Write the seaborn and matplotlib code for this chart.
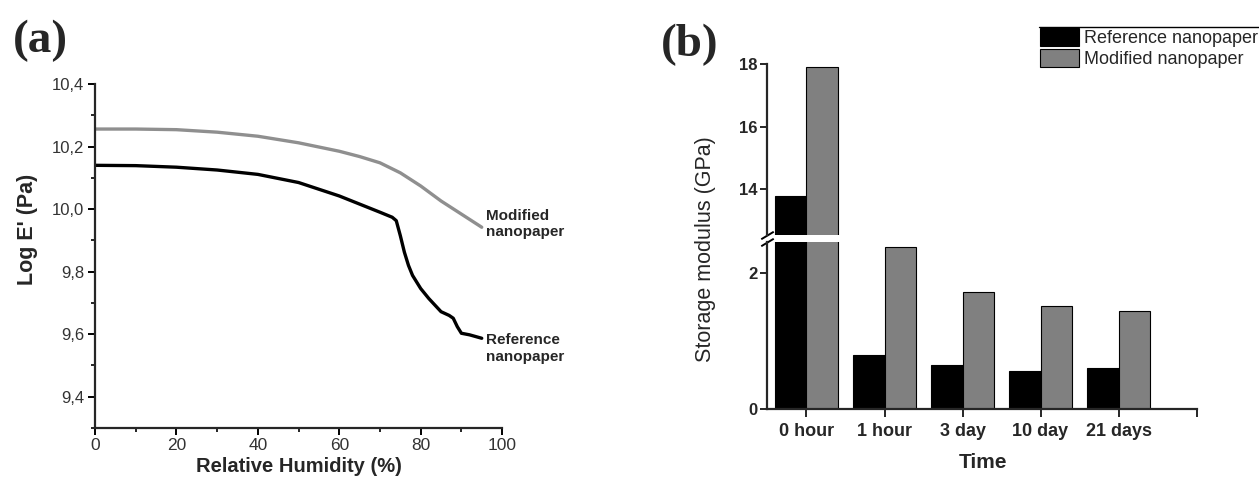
import matplotlib
matplotlib.use("Agg")
import matplotlib.pyplot as plt
import seaborn as sns
import pandas as pd
from matplotlib.lines import Line2D
from matplotlib.ticker import MultipleLocator, FuncFormatter

# panel (a): log E' vs relative humidity
rh_modified = [0, 10, 20, 30, 40, 50, 60, 65, 70, 75, 80, 85, 90, 95]
loge_modified = [10.256, 10.256, 10.254, 10.246, 10.233, 10.212, 10.185,
                 10.168, 10.148, 10.116, 10.074, 10.026, 9.984, 9.942]
rh_reference = [0, 10, 20, 30, 40, 50, 60, 65, 70, 73, 74, 75, 76, 77, 78,
                80, 82, 85, 87, 88, 89, 90, 92, 95]
loge_reference = [10.140, 10.139, 10.134, 10.125, 10.111, 10.085, 10.042,
                  10.016, 9.990, 9.974, 9.963, 9.915, 9.862, 9.820, 9.788,
                  9.746, 9.714, 9.672, 9.660, 9.651, 9.624, 9.603, 9.598, 9.587]

# panel (b): storage modulus over time
times = ["0 hour", "1 hour", "3 day", "10 day", "21 days"]
series = ["Reference nanopaper", "Modified nanopaper"]
modulus_reference = [13.78, 0.80, 0.647, 0.568, 0.607]
modulus_modified = [17.91, 2.38, 1.725, 1.52, 1.44]

sns.set_theme(style="ticks")
plt.rcParams["font.family"] = ["Liberation Sans", "DejaVu Sans"]
plt.rcParams["axes.linewidth"] = 1.6

fig = plt.figure(figsize=(12.59, 4.82), dpi=100)

# ---- (a)
ax_a = fig.add_axes([0.0755, 0.112, 0.3233, 0.7137])
sns.lineplot(x=rh_modified, y=loge_modified, color="#8f8f8f", lw=2.4, ax=ax_a)
sns.lineplot(x=rh_reference, y=loge_reference, color="black", lw=2.4, ax=ax_a)
ax_a.set_xlim(0, 100)
ax_a.set_ylim(9.3, 10.4)
ax_a.xaxis.set_major_locator(MultipleLocator(20))
ax_a.xaxis.set_minor_locator(MultipleLocator(10))
ax_a.yaxis.set_major_locator(MultipleLocator(0.2))
ax_a.yaxis.set_minor_locator(MultipleLocator(0.1))
ax_a.yaxis.set_major_formatter(FuncFormatter(lambda v, _: f"{v:.1f}".replace(".", ",")))
sns.despine(ax=ax_a)
ax_a.tick_params(which="major", length=5, width=1.4, color="black")
ax_a.tick_params(which="minor", length=3, width=1.2, color="black")
ax_a.tick_params(axis="y", labelsize=12, labelcolor="#333333", pad=3)
ax_a.tick_params(axis="x", labelsize=12.5, labelcolor="#333333", pad=2)
ax_a.set_xlabel("Relative Humidity (%)", fontsize=14.5, fontweight="bold")
ax_a.xaxis.set_label_coords(0.5, -0.112)
ax_a.xaxis.label.set_va("center")
ax_a.set_ylabel("Log E' (Pa)", fontsize=15.5, fontweight="bold")
ax_a.yaxis.set_label_coords(-0.165, 0.576)
ax_a.yaxis.label.set_va("center")
ax_a.text(96, 9.952, "Modified\nnanopaper", fontsize=11, fontweight="bold",
          ha="left", va="center", linespacing=1.25)
ax_a.text(96, 9.555, "Reference\nnanopaper", fontsize=11, fontweight="bold",
          ha="left", va="center", linespacing=1.25)

# ---- (b) broken y axis
df = pd.DataFrame({
    "Time": times * 2,
    "Series": [series[0]] * len(times) + [series[1]] * len(times),
    "Modulus": modulus_reference + modulus_modified,
})
colors = ["black", "#808080"]
ax_lo = fig.add_axes([0.6096, 0.1508, 0.3408, 0.3471])
ax_hi = fig.add_axes([0.6096, 0.5124, 0.3408, 0.3548])
for ax in (ax_lo, ax_hi):
    sns.barplot(data=df, x="Time", y="Modulus", hue="Series", palette=colors,
                saturation=1, errorbar=None, width=0.8, edgecolor="black",
                linewidth=0.8, ax=ax)
    ax.set_xlim(-0.5, 5.0)
    ax.set_ylabel("")
    ax.spines["top"].set_visible(False)
    ax.spines["right"].set_visible(False)
    ax.tick_params(axis="y", length=5, width=1.4, labelsize=12, pad=2)

handles, labels = ax_hi.get_legend_handles_labels()
ax_hi.get_legend().remove()
ax_lo.get_legend().remove()

ax_hi.set_ylim(12.53, 18.0)
ax_hi.set_yticks([14, 16, 18])
ax_hi.set_yticklabels(["14", "16", "18"], fontweight="bold")
ax_hi.spines["bottom"].set_visible(False)
ax_hi.tick_params(axis="x", bottom=False, labelbottom=False)
ax_hi.set_xlabel("")

ax_lo.set_ylim(0, 2.46)
ax_lo.set_yticks([0, 2])
ax_lo.set_yticklabels(["0", "2"], fontweight="bold")
ax_lo.set_xticks([5.0], minor=True)
ax_lo.tick_params(axis="x", which="both", length=6, width=1.4, labelsize=13, pad=4)
for lab in ax_lo.get_xticklabels():
    lab.set_fontweight("bold")
ax_lo.set_xlabel("Time", fontsize=15, fontweight="bold")
ax_lo.xaxis.set_label_coords(0.502, -0.315)
ax_lo.xaxis.label.set_va("center")

# break marks on the y axis
brk = dict(marker=[(-1, -0.6), (1, 0.6)], markersize=9, linestyle="none",
           color="black", mec="black", mew=1.4, clip_on=False)
ax_lo.plot([0], [1], transform=ax_lo.transAxes, **brk)
ax_hi.plot([0], [0], transform=ax_hi.transAxes, **brk)

fig.text(705 / 1259, 1 - 249 / 482, "Storage modulus (GPa)", rotation=90,
         fontsize=15.5, ha="center", va="center")

fig.legend(handles, labels, loc="upper left",
           bbox_to_anchor=(1040 / 1259, 1 - 28 / 482), frameon=False,
           fontsize=13, handlelength=2.15, handleheight=1.15,
           handletextpad=0.3, labelspacing=0.1, borderpad=0, borderaxespad=0)
fig.add_artist(Line2D([1039 / 1259, 1.0], [1 - 26.7 / 482] * 2,
                      color="black", lw=1.0))

fig.text(40 / 1259, 1 - 41 / 482, "(a)", fontsize=34, fontweight="bold",
         family="Liberation Serif", ha="center", va="center")
fig.text(690 / 1259, 1 - 45 / 482, "(b)", fontsize=34, fontweight="bold",
         family="Liberation Serif", ha="center", va="center")

fig.savefig("out.png", dpi=100)
